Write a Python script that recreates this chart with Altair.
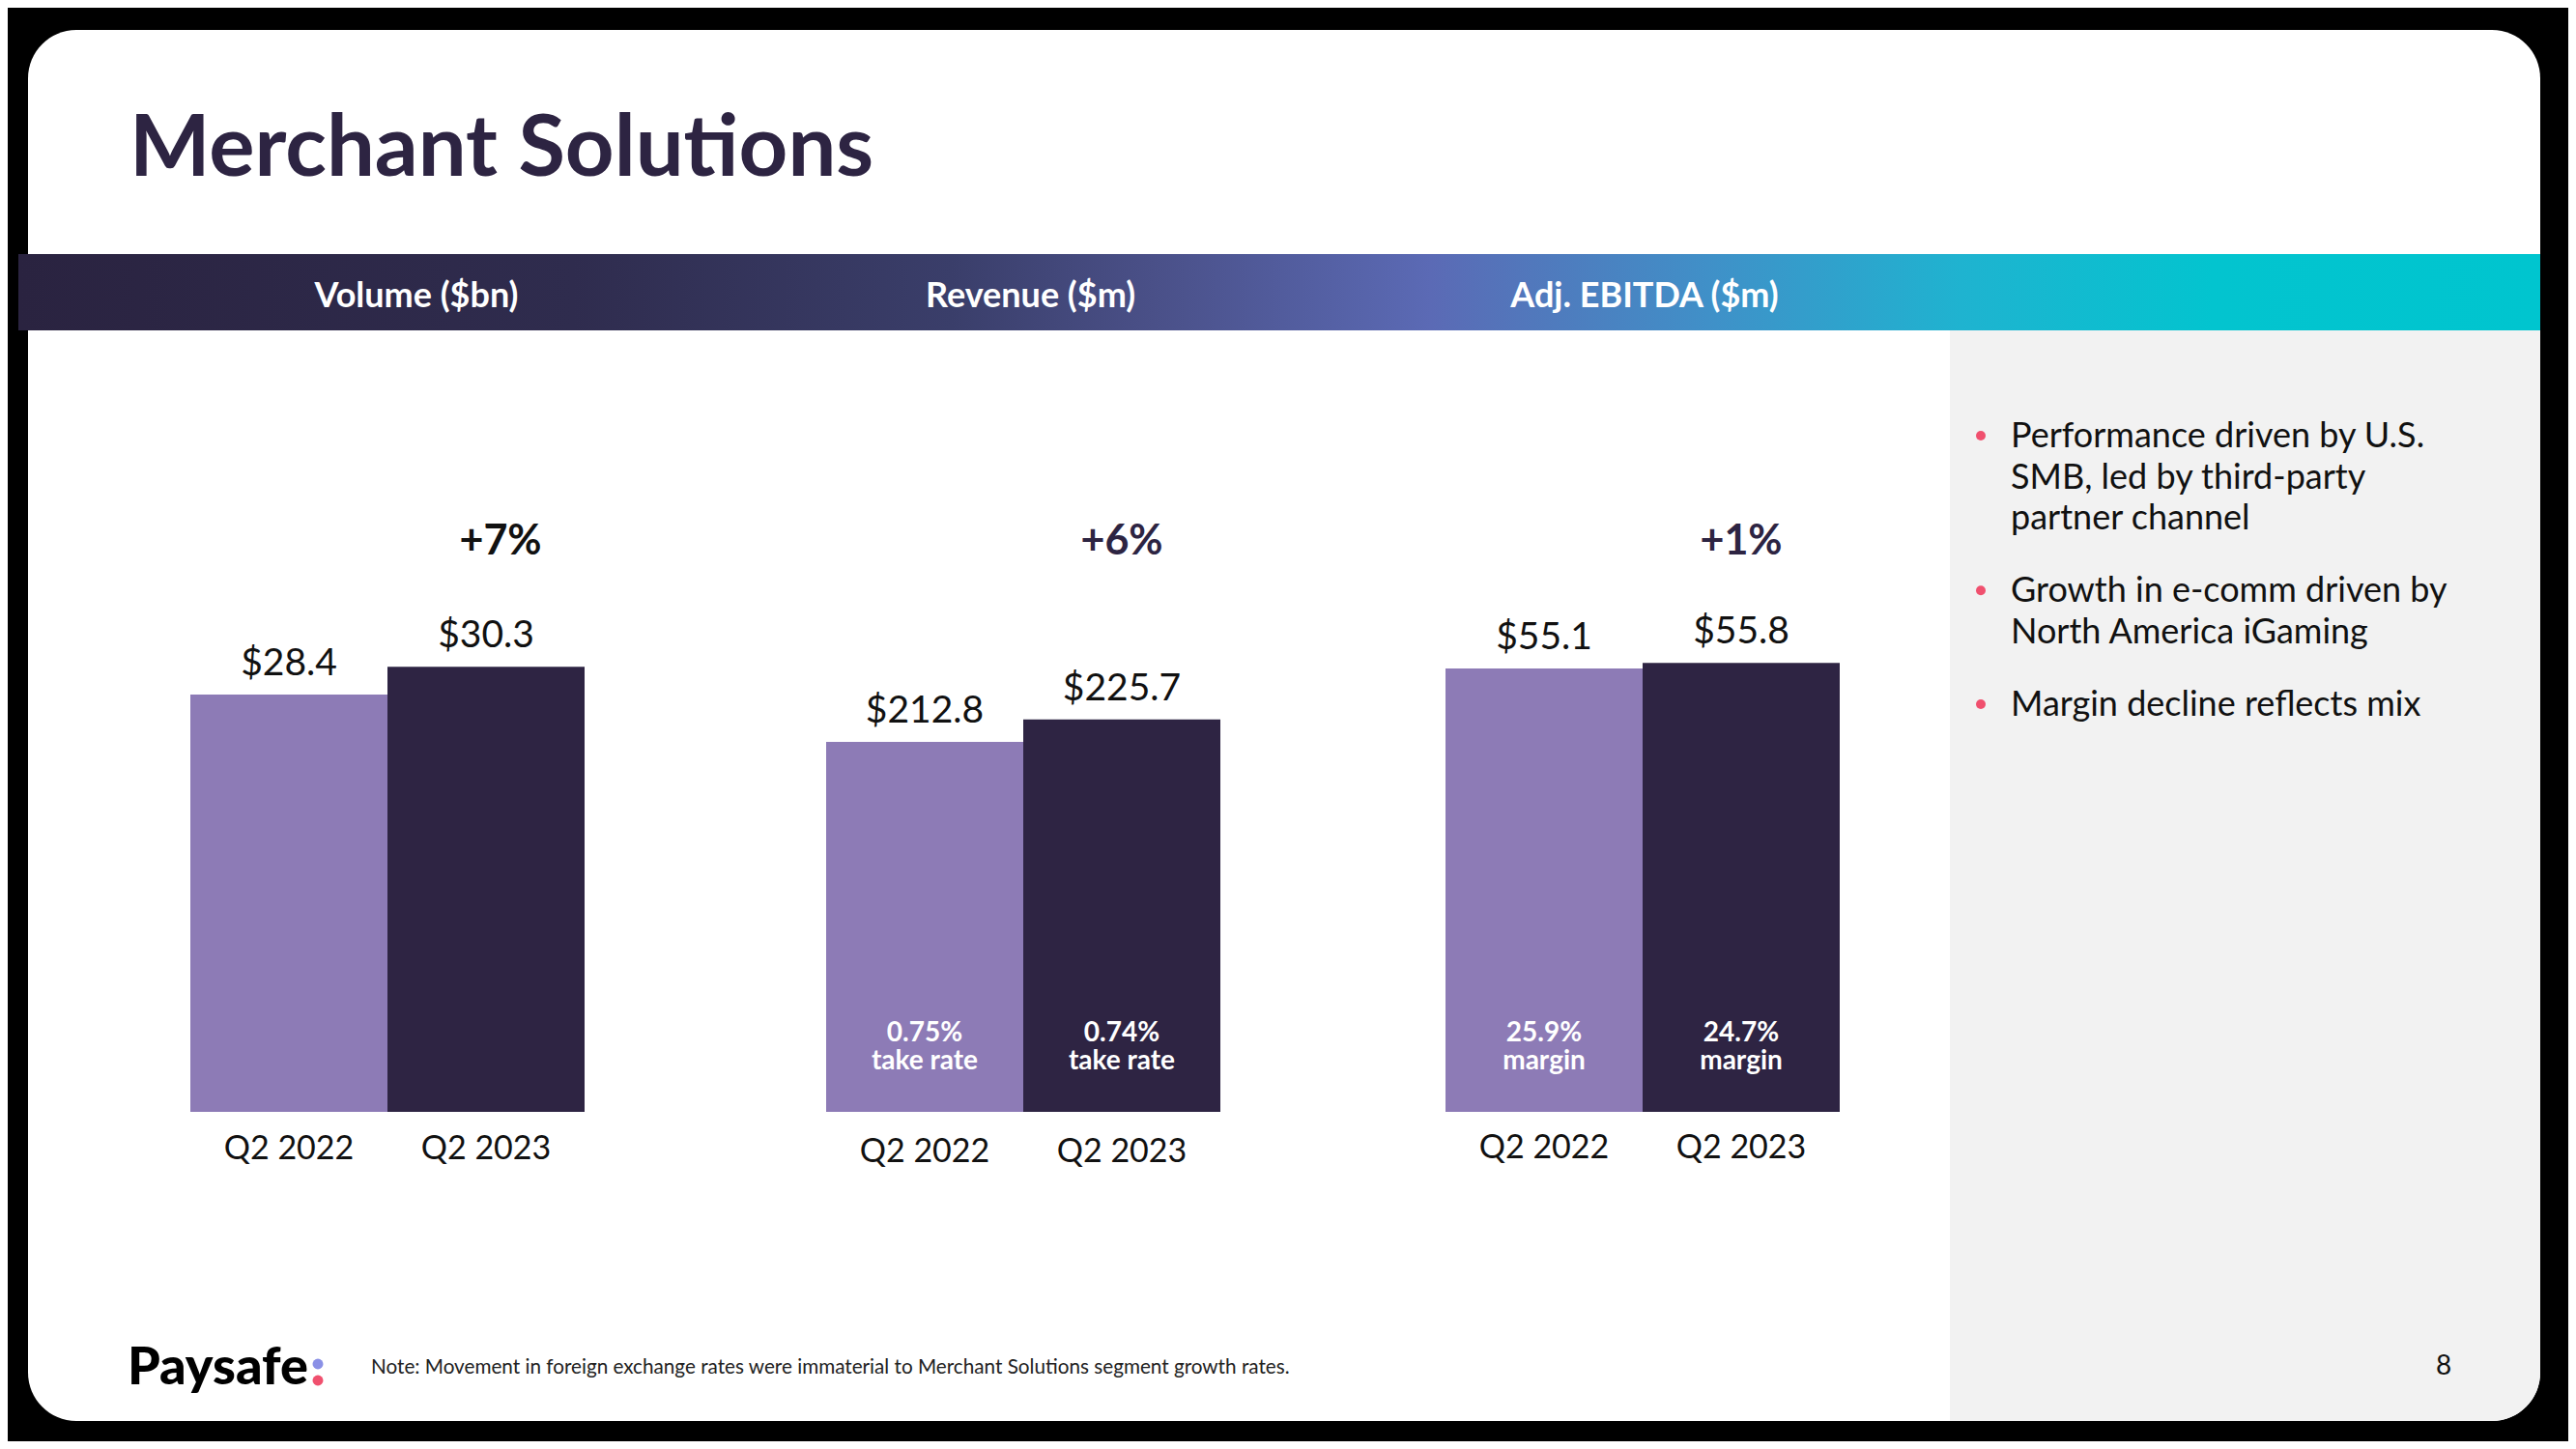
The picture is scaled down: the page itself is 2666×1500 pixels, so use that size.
import altair as alt
import pandas as pd

# ---------------- data ----------------
title = "Merchant Solutions"
metrics = ["Volume ($bn)", "Revenue ($m)", "Adj. EBITDA ($m)"]
periods = ["Q2 2022", "Q2 2023"]
volume = [28.4, 30.3]
revenue = [212.8, 225.7]
ebitda = [55.1, 55.8]
growth = ["+7%", "+6%", "+1%"]
take_rate = ["0.75%", "0.74%"]
margin = ["25.9%", "24.7%"]
bullets = [
    ["Performance driven by U.S.", "SMB, led by third-party", "partner channel"],
    ["Growth in e-comm driven by", "North America iGaming"],
    ["Margin decline reflects mix"],
]
note = "Note: Movement in foreign exchange rates were immaterial to Merchant Solutions segment growth rates."
logo = "Paysafe"
page_no = "8"

# ---------------- styles ----------------
FONT = "Lato"
NAVY = "#2d2442"
LIGHT = "#8d7bb6"
DARK = "#2e2443"
PINK = "#f0506e"
W, H = 2650, 1484

one = pd.DataFrame({"k": [0]})


def deco_rect(x, x2, y, y2, **kw):
    return alt.Chart(one).mark_rect(**kw).encode(
        x=alt.value(x), x2=alt.value(x2), y=alt.value(y), y2=alt.value(y2)
    )


def deco_text(txt, x, y, **kw):
    return alt.Chart(one).mark_text(font=FONT, **kw).encode(
        x=alt.value(x), y=alt.value(y), text=alt.value(txt)
    )


layers = []
# card
layers.append(deco_rect(21, 2621, 23, 1463, color="white", cornerRadius=50))
# grey side panel
layers.append(deco_rect(2010, 2621, 334, 1463, color="#f2f2f2", cornerRadiusBottomRight=50))
# header band gradient
grad = alt.Gradient(
    gradient="linear", x1=0, x2=1, y1=0, y2=0,
    stops=[
        alt.GradientStop(color="#2a2340", offset=0),
        alt.GradientStop(color="#2f2c4e", offset=0.22),
        alt.GradientStop(color="#3a3e6a", offset=0.37),
        alt.GradientStop(color="#4a5088", offset=0.45),
        alt.GradientStop(color="#5b6ab5", offset=0.56),
        alt.GradientStop(color="#4090c8", offset=0.67),
        alt.GradientStop(color="#1fb3d0", offset=0.77),
        alt.GradientStop(color="#03c4cf", offset=0.87),
        alt.GradientStop(color="#00c5cf", offset=1),
    ],
)
layers.append(deco_rect(11, 2621, 255, 334, fill=grad))

# title
layers.append(deco_text(title, 126, 174, align="left", baseline="alphabetic",
                        fontSize=88.5, fontWeight="bold", color=NAVY))

# header labels
hdr = pd.DataFrame({"h": metrics})
layers.append(
    alt.Chart(hdr).mark_text(font=FONT, fontSize=36, fontWeight="bold", color="white",
                             baseline="middle").encode(
        x=alt.X("h:N", scale=alt.Scale(type="point", domain=metrics, range=[423, 1694], padding=0), axis=None),
        y=alt.value(299),
        text="h:N",
    )
)

# ---------------- bar panels ----------------
panels = [
    dict(vals=volume, inner=None, sub=None, xr=[189, 597], k=15.21, cat_y=1192, gcol="#111111", gdx=15),
    dict(vals=revenue, inner=take_rate, sub="take rate", xr=[847, 1255], k=1.80, cat_y=1195, gcol=NAVY, gdx=0),
    dict(vals=ebitda, inner=margin, sub="margin", xr=[1488, 1896], k=8.33, cat_y=1191, gcol=NAVY, gdx=0),
]
BASE = 1143

for i, p in enumerate(panels):
    df = pd.DataFrame({
        "period": periods,
        "value": p["vals"],
        "label": [f"${v:.1f}" for v in p["vals"]],
    })
    if p["inner"]:
        df["inner"] = [f"{a}\n{p['sub']}" for a in p["inner"]]
    xs = alt.Scale(type="band", domain=periods, range=p["xr"], paddingInner=0, paddingOuter=0)
    ys = alt.Scale(domain=[0, BASE / p["k"]], range=[BASE, 0], nice=False, zero=False)
    cs = alt.Scale(domain=periods, range=[LIGHT, DARK])
    X = alt.X("period:N", scale=xs, axis=None)
    Xc = alt.X("period:N", scale=xs, axis=None, bandPosition=0.5)
    Y = alt.Y("value:Q", scale=ys, axis=None)
    base = alt.Chart(df)
    layers.append(base.mark_bar().encode(
        x=X, y=Y,
        color=alt.Color("period:N", scale=cs, legend=None)))
    layers.append(base.mark_text(font=FONT, fontSize=39, color="#111111", baseline="alphabetic", dy=-20).encode(
        x=Xc, y=Y, text="label:N"))
    layers.append(base.mark_text(font=FONT, fontSize=34, color="#111111", baseline="alphabetic").encode(
        x=Xc, y=alt.value(p["cat_y"]), text="period:N"))
    if p["inner"]:
        layers.append(base.mark_text(font=FONT, fontSize=28, fontWeight="bold", color="white",
                                     baseline="alphabetic", lineBreak="\n", lineHeight=29).encode(
            x=Xc, y=alt.value(1070), text="inner:N"))
    g = pd.DataFrame({"period": [periods[1]], "g": [growth[i]]})
    layers.append(alt.Chart(g).mark_text(font=FONT, fontSize=43, fontWeight="bold", color=p["gcol"],
                                         baseline="alphabetic", dx=p["gdx"]).encode(
        x=Xc, y=alt.value(566), text="g:N"))

# ---------------- bullets ----------------
rows = []
pos = 0.0
for j, b in enumerate(bullets):
    rows.append({"pos": pos, "txt": "\n".join(b)})
    pos += len(b) + 0.77
bdf = pd.DataFrame(rows)
bys = alt.Scale(domain=[0, 1], range=[455, 497.5], nice=False, zero=False)
layers.append(alt.Chart(bdf).mark_text(font=FONT, fontSize=36, color="#111111", align="left",
                                       baseline="alphabetic", lineBreak="\n", lineHeight=42.5).encode(
    x=alt.value(2073), y=alt.Y("pos:Q", scale=bys, axis=None), text="txt:N"))
layers.append(alt.Chart(bdf).mark_circle(color=PINK, opacity=1, size=100, yOffset=-12).encode(
    x=alt.value(2042), y=alt.Y("pos:Q", scale=bys, axis=None)))

# ---------------- footer ----------------
layers.append(deco_text(logo, 124, 1425, align="left", baseline="alphabetic",
                        fontSize=54, fontWeight=900, color="#000000"))
dots = pd.DataFrame({"d": ["top", "bottom"]})
layers.append(alt.Chart(dots).mark_circle(opacity=1, size=120).encode(
    x=alt.value(321),
    y=alt.Y("d:N", scale=alt.Scale(type="point", domain=["top", "bottom"], range=[1404, 1421], padding=0), axis=None),
    color=alt.Color("d:N", scale=alt.Scale(domain=["top", "bottom"], range=["#8a90e6", PINK]), legend=None),
))
layers.append(deco_text(note, 376, 1414, align="left", baseline="alphabetic",
                        fontSize=20.7, color="#222222"))
layers.append(deco_text(page_no, 2521, 1415, align="center", baseline="alphabetic",
                        fontSize=28, color="#111111"))

chart = alt.layer(*layers).resolve_scale(
    x="independent", y="independent", color="independent"
).properties(
    width=W, height=H, background="black", padding=0, autosize=alt.AutoSizeParams(type="none")
).configure_view(stroke=None)

chart.save("out.html", embed_options={"renderer": "svg", "actions": False})
